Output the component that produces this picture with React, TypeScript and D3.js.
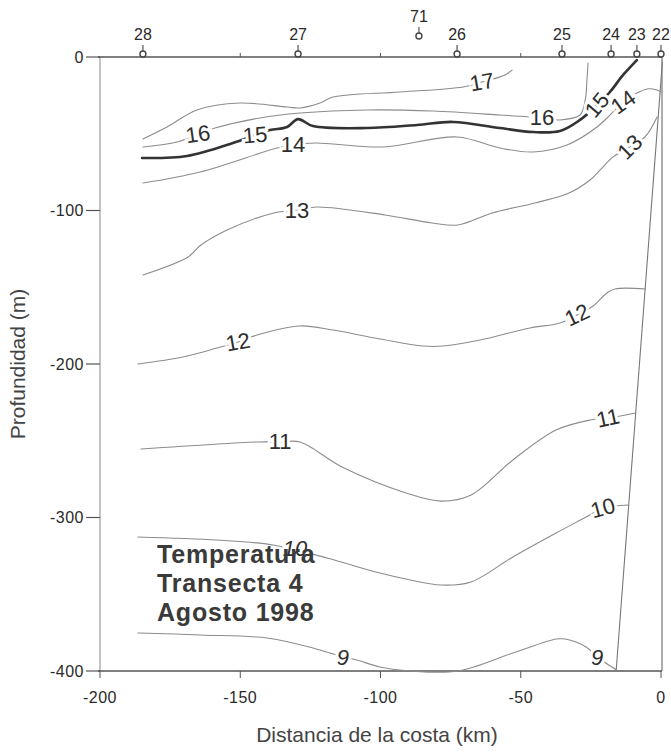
import React from "react";
import * as d3 from "d3";

// ---------- DATA ----------
const xTicks = [-200, -150, -100, -50, 0];
const yTicks = [0, -100, -200, -300, -400];
const topTicks = [-150, -100, -50];

const stationNames = ["28", "27", "71", "26", "25", "24", "23", "22"];
const stationKm = [-184.7, -129.4, -86.3, -72.7, -35.3, -17.8, -8.6, 0];
const stationRaised = [false, false, true, false, false, false, false, false];

// seafloor / slope boundary [km, depth]
const seafloor: [number, number][] = [[0.5, -3], [-16.0, -400]];

const contour17: [number, number][] = [
  [-184.7, -53.4], [-176.1, -45.6], [-165.4, -34.5], [-150.1, -30.0], [-133.3, -32.6],
  [-128.7, -33.2], [-121.6, -30.0], [-116.9, -26.1], [-93.0, -22.8], [-70.6, -19.5],
  [-63.8, -16.3], [-55.6, -11.7], [-53.1, -8.5],
];
const contour16: [number, number][] = [
  [-184.7, -58.6], [-172.5, -55.4], [-165.1, -50.2], [-159.0, -46.3], [-143.0, -39.7],
  [-128.7, -36.5], [-104.8, -34.5], [-81.3, -35.2], [-57.4, -37.8], [-42.4, -39.7],
  [-36.0, -41.0], [-28.9, -37.8], [-27.0, -28.0], [-26.4, -15.0], [-26.0, -3.9],
];
const contour15: [number, number][] = [
  [-185.0, -65.8], [-169.0, -64.5], [-152.6, -56.0], [-144.7, -50.8], [-139.4, -47.6],
  [-133.3, -45.6], [-129.4, -40.5], [-124.1, -45.0], [-104.8, -46.3], [-87.0, -44.3],
  [-74.2, -42.3], [-57.4, -46.3], [-45.6, -48.9], [-36.0, -48.2], [-28.9, -41.0],
  [-22.8, -31.3], [-18.2, -22.8], [-13.5, -11.7], [-8.6, -2.0],
];
const contour14: [number, number][] = [
  [-184.7, -82.1], [-164.3, -74.9], [-136.9, -59.3], [-131.2, -57.3], [-123.4, -56.0],
  [-99.1, -58.6], [-72.7, -52.1], [-57.4, -59.3], [-45.6, -61.9], [-33.5, -57.3],
  [-22.8, -45.6], [-18.2, -37.8], [-13.5, -29.3], [-8.6, -23.5], [-5.0, -20.8],
  [-1.4, -21.5], [0, -22.8],
];
const contour13: [number, number][] = [
  [-184.7, -142.0], [-168.6, -130.3], [-164.0, -122.5], [-154.7, -112.7], [-138.0, -101.6],
  [-129.8, -99.7], [-122.6, -97.7], [-98.4, -102.9], [-81.6, -108.1], [-72.4, -109.4],
  [-60.2, -101.6], [-44.9, -95.1], [-32.8, -88.6], [-25.3, -80.1], [-21.7, -73.6],
  [-17.1, -65.1], [-11.1, -58.6], [-5.7, -52.1], [-1.4, -39.1],
];
const contour12: [number, number][] = [
  [-186.5, -200.0], [-170.4, -195.4], [-158.3, -189.6], [-150.8, -185.7], [-144.0, -181.1],
  [-128.7, -175.2], [-116.9, -177.9], [-100.2, -183.7], [-84.8, -188.3], [-77.7, -188.3],
  [-64.5, -184.4], [-46.7, -176.5], [-36.0, -173.3], [-29.9, -168.1], [-24.2, -162.2],
  [-19.3, -153.7], [-16.4, -151.1], [-5.6, -151.1],
];
const contour11: [number, number][] = [
  [-185.4, -255.4], [-144.0, -250.8], [-135.8, -250.8], [-128.7, -250.8], [-113.7, -267.1],
  [-90.9, -284.0], [-78.4, -289.3], [-67.7, -285.3], [-52.8, -262.5], [-37.4, -243.0],
  [-25.3, -236.5], [-18.9, -235.2], [-9.0, -231.9],
];
const contour10: [number, number][] = [
  [-186.5, -312.7], [-158.3, -314.7], [-138.3, -317.9], [-119.1, -326.4], [-100.2, -336.2],
  [-90.9, -340.1], [-78.4, -344.0], [-67.7, -342.0], [-52.8, -325.7], [-37.4, -310.1],
  [-26.7, -299.7], [-20.7, -293.8], [-11.5, -291.9],
];
const contour9: [number, number][] = [
  [-186.5, -375.2], [-164.3, -376.5], [-140.5, -378.5], [-124.1, -385.0], [-113.4, -390.9],
  [-108.4, -392.8], [-100.2, -397.4], [-89.1, -400], [-72.4, -400], [-52.8, -388.3],
  [-37.4, -379.2], [-34.2, -379.2], [-26.7, -384.4], [-22.8, -390.9], [-17.5, -397.4],
  [-15.8, -399.3],
];

const contours = [
  { level: 17, pts: contour17 },
  { level: 16, pts: contour16 },
  { level: 15, pts: contour15 },
  { level: 14, pts: contour14 },
  { level: 13, pts: contour13 },
  { level: 12, pts: contour12 },
  { level: 11, pts: contour11 },
  { level: 10, pts: contour10 },
  { level: 9, pts: contour9 },
];

// contour labels: text, km, depth, angle, italic
const labelText = ["17", "16", "15", "14", "16", "15", "14", "13", "13", "12", "12", "11", "11", "10", "10", "9", "9"];
const labelKm = [-63.8, -165.1, -144.7, -131.2, -42.4, -22.8, -13.5, -129.8, -11.1, -150.8, -29.9, -135.8, -18.9, -130.5, -20.7, -113.4, -22.8];
const labelDepth = [-16.3, -50.2, -50.8, -57.3, -39.7, -31.3, -29.3, -99.7, -58.6, -185.7, -168.1, -250.8, -235.2, -320.5, -293.8, -390.9, -390.9];
const labelAngle = [-10, -8, -5, 0, 0, -50, -35, 0, -45, -10, -25, 0, -12, 0, -15, 0, 0];
const labelItalic = [false, false, false, false, false, false, false, false, false, false, false, false, false, true, false, true, true];

const titleLines = ["Temperatura", "Transecta 4", "Agosto 1998"];

// ---------- CHART ----------
const W = 671;
const H = 755;
const FONT = "'Liberation Sans', Arial, sans-serif";

export default function App() {
  const x = d3.scaleLinear().domain([-200, 0]).range([100, 661]);
  const y = d3.scaleLinear().domain([0, -400]).range([57, 671]);

  const line = d3
    .line<[number, number]>()
    .x((d) => x(d[0]))
    .y((d) => y(d[1]))
    .curve(d3.curveCatmullRom.alpha(0.5));

  const straight = d3
    .line<[number, number]>()
    .x((d) => x(d[0]))
    .y((d) => y(d[1]));

  const axisColor = "#555";
  const textColor = "#2a2a2a";

  return (
    <svg
      width={W}
      height={H}
      style={{ position: "absolute", left: 0, top: 0, background: "#fff" }}
      fontFamily={FONT}
    >
      <rect x={0} y={0} width={W} height={H} fill="#fff" />

      {/* frame */}
      <line x1={x(-200)} x2={x(-200)} y1={y(0)} y2={y(-400)} stroke="#888" strokeWidth={1} />
      <line x1={x(0) + 1} x2={x(0) + 1} y1={y(0)} y2={y(-400)} stroke="#777" strokeWidth={1.2} />
      <line x1={x(-200) - 2} x2={x(0) + 1} y1={y(-400)} y2={y(-400)} stroke={axisColor} strokeWidth={1.3} />
      <line x1={x(-200) - 2} x2={x(0) + 1} y1={y(0)} y2={y(0)} stroke={axisColor} strokeWidth={1.6} />

      {/* seafloor / slope */}
      <path d={straight(seafloor) || ""} fill="none" stroke="#777" strokeWidth={1.1} />

      {/* y ticks */}
      {yTicks.map((t) => (
        <g key={"y" + t}>
          <line x1={x(-200) - 14} x2={x(-200)} y1={y(t)} y2={y(t)} stroke={axisColor} strokeWidth={1.2} />
          <text
            x={x(-200) - 16}
            y={y(t)}
            textAnchor="end"
            dominantBaseline="central"
            fontSize={16}
            letterSpacing={0.5}
            fill={textColor}
          >
            {t}
          </text>
        </g>
      ))}

      {/* x ticks */}
      {xTicks.map((t) => (
        <g key={"x" + t}>
          <line x1={x(t)} x2={x(t)} y1={y(-400)} y2={y(-400) + 7} stroke={axisColor} strokeWidth={1} />
          <text x={x(t)} y={703} textAnchor="middle" fontSize={16} letterSpacing={0.5} fill={textColor}>
            {t}
          </text>
        </g>
      ))}
      {topTicks.map((t) => (
        <line key={"tt" + t} x1={x(t)} x2={x(t)} y1={y(0)} y2={y(0) - 4} stroke={axisColor} strokeWidth={1} />
      ))}

      {/* stations */}
      {stationNames.map((s, i) => {
        const cx = x(stationKm[i]);
        const cy = stationRaised[i] ? 36 : y(0) - 3;
        return (
          <g key={"st" + s}>
            <line x1={cx} x2={cx} y1={cy - 9} y2={cy - 3} stroke={axisColor} strokeWidth={1.2} />
            <circle cx={cx} cy={cy} r={3} fill="#fff" stroke="#444" strokeWidth={1.4} />
            <text x={cx} y={cy - 14} textAnchor="middle" fontSize={16} fill={textColor}>
              {s}
            </text>
          </g>
        );
      })}

      {/* contours */}
      {contours.map((c) => (
        <path
          key={"c" + c.level}
          d={line(c.pts) || ""}
          fill="none"
          stroke={c.level === 15 ? "#333" : "#8c8c8c"}
          strokeWidth={c.level === 15 ? 2.6 : 1.1}
          strokeLinejoin="round"
          strokeLinecap="round"
        />
      ))}

      {/* contour labels */}
      {labelText.map((t, i) => {
        const lx = x(labelKm[i]);
        const ly = y(labelDepth[i]);
        return (
          <text
            key={"l" + i}
            x={lx}
            y={ly}
            transform={`rotate(${labelAngle[i]} ${lx} ${ly})`}
            textAnchor="middle"
            dominantBaseline="central"
            fontSize={22}
            fontStyle={labelItalic[i] ? "italic" : "normal"}
            fill="#2e2e2e"
            stroke="#fff"
            strokeWidth={6}
            paintOrder="stroke"
          >
            {t}
          </text>
        );
      })}

      {/* title block */}
      {titleLines.map((t, i) => (
        <text
          key={"t" + i}
          x={157}
          y={563 + i * 29}
          fontSize={25}
          fontWeight="bold"
          letterSpacing={0.8}
          fill="#3a3a3a"
        >
          {t}
        </text>
      ))}

      {/* axis titles */}
      <text x={377} y={742} textAnchor="middle" fontSize={21} fill="#444">
        Distancia de la costa (km)
      </text>
      <text
        x={0}
        y={0}
        transform="translate(25,364) rotate(-90)"
        textAnchor="middle"
        fontSize={21}
        fill="#444"
      >
        Profundidad (m)
      </text>
    </svg>
  );
}
